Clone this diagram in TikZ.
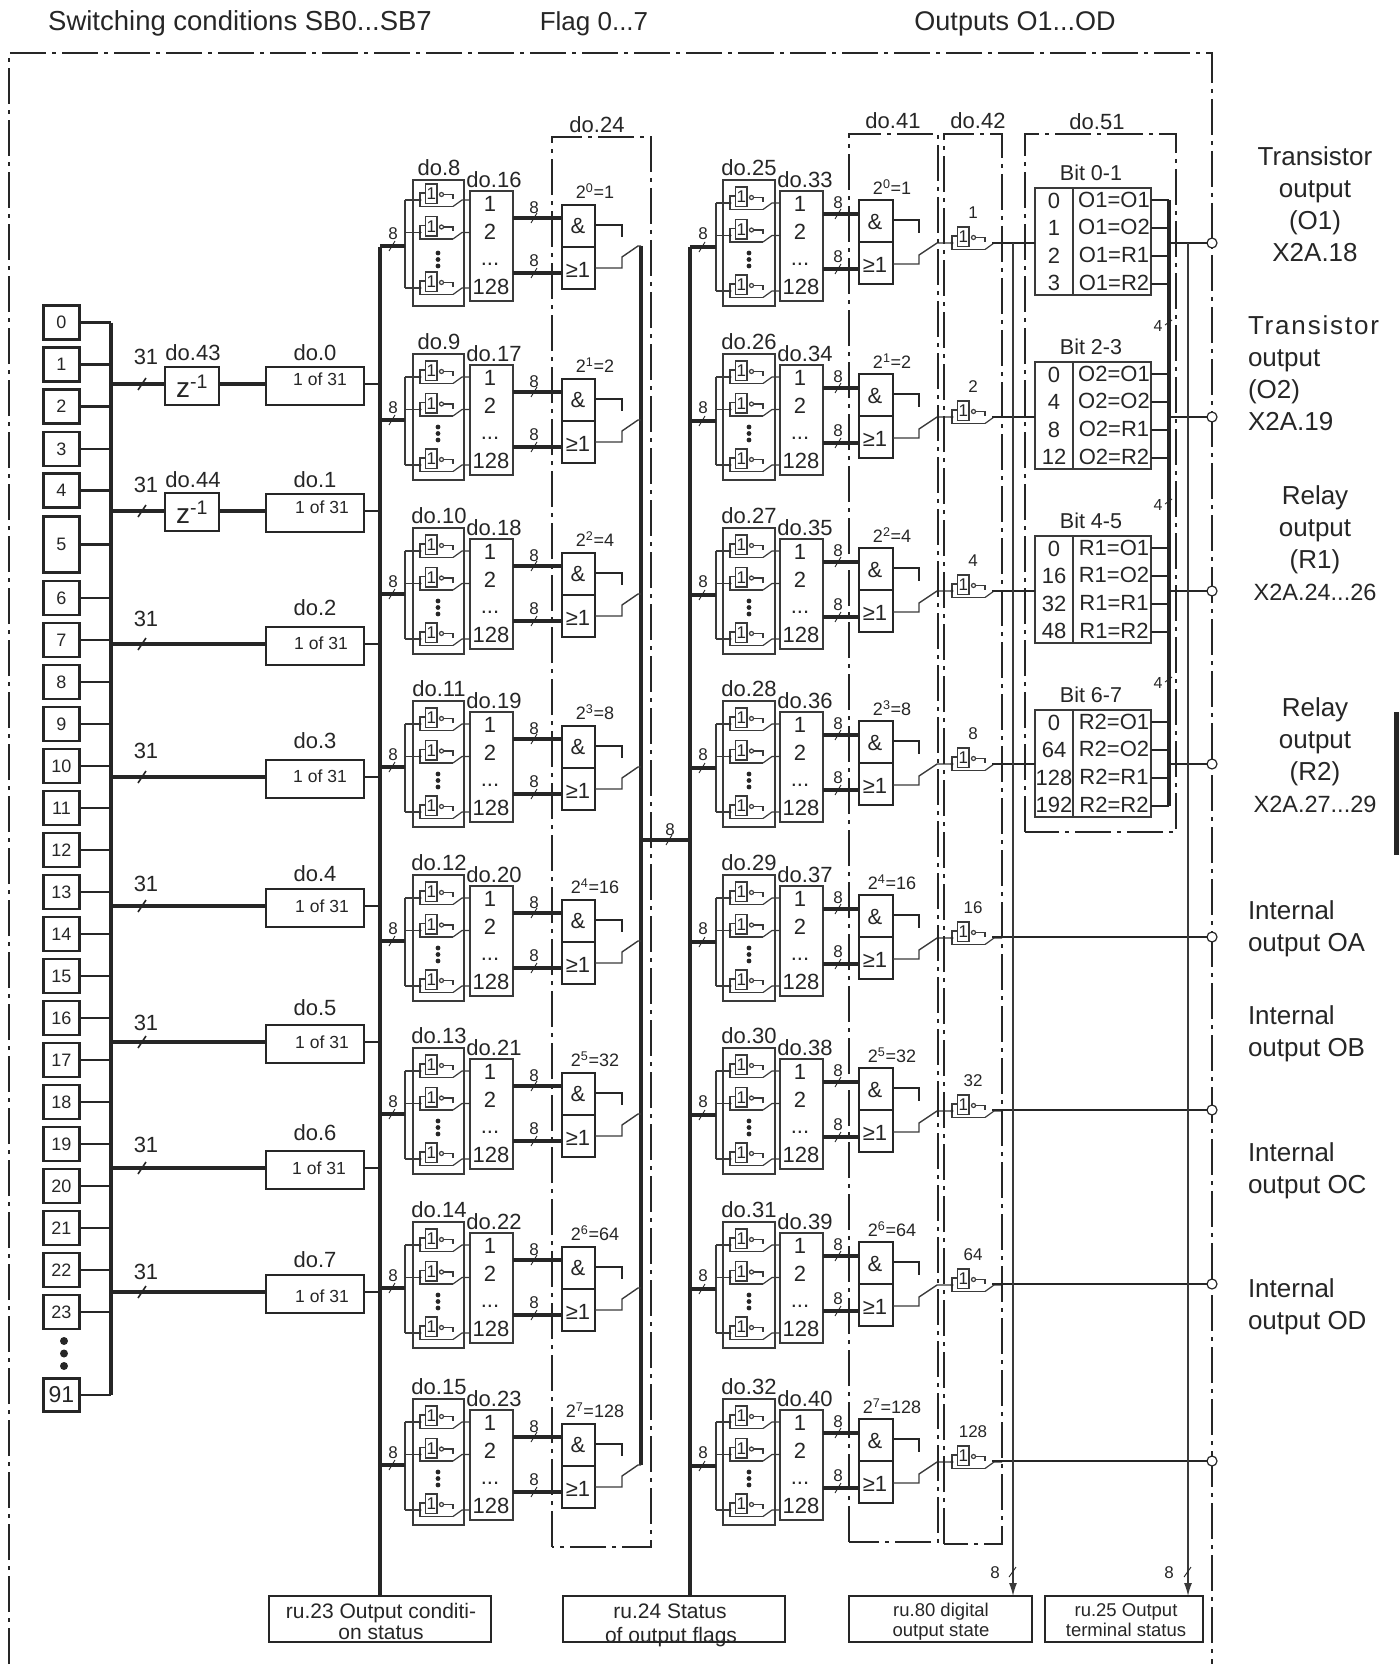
\documentclass[tikz,border=0pt]{standalone}
\usepackage{fontspec}
\setmainfont{Liberation Sans}
\usetikzlibrary{arrows.meta,calc}
\definecolor{ink}{HTML}{262626}
\definecolor{thin}{HTML}{3A3A3A}
\newcommand{\fsz}[1]{\fontsize{#1}{#1}\selectfont}
\tikzset{
  x=1pt,y=-1pt,
  every node/.style={inner sep=0pt,outer sep=0pt,text=ink},
  txt/.style={font=\fsz{#1},text height={#1*0.72},text depth=0pt},
  box/.style={draw=thin,line width=1.3,anchor=north west,minimum width=#1},
  hbox/.style={minimum height=#1},
  heavy/.style={draw=ink,line width=3.4},
  medium/.style={draw=ink,line width=2.6},
  fine/.style={draw=thin,line width=1.2},
  bus/.style={draw=ink,line width=4.4},
  frameline/.style={draw=ink,line width=1.2,dash pattern=on 36pt off 6pt on 4pt off 6pt},
  inbox/.style={draw=ink,line width=2.2,minimum width=36,font=\fsz{18}},
  selbox/.style={draw=ink,line width=2.2,anchor=north west,minimum width=98,minimum height=38},
  btbox/.style={draw=ink,line width=1.5,anchor=north west},
  zbox/.style={draw=ink,fill=white,line width=2.2,anchor=north west,minimum width=54,minimum height=38,font=\fsz{28}},
  gatepic/.pic={
    \node[draw=thin,line width=1.2,anchor=north west,minimum width=11.5,minimum height=19.5,font=\fsz{17}] (-one) at (5.5,-16) {1};
    \draw[fine] (0,0) -- (0,-7) -- (5.5,-7);
    \draw[fine] (0,0) -- (0,6.5) -- (33,6.5);
    \draw[fine] (23.5,-5.5) -- (33,-5.5) -- (33,-1);
    \draw[fine] (33,6.5) -- (42,0) -- (50,0);
    \draw[fine,fill=white] (21.5,-5.5) circle (2);
    \fill[ink] (0,0) circle (1.6);
    \coordinate (-in) at (0,0);
    \coordinate (-out) at (50,0);
  },
  bigtick/.pic={\draw[ink,line width=1.6] (-4,6) -- (4,-6);},
  smalltick/.pic={\draw[ink,line width=0.9] (-3,5) -- (3,-5);},
  dots/.pic={\fill[ink] (0,0) circle (2.4) (0,6.5) circle (2.4) (0,13) circle (2.4);},
}
\begin{document}
\begin{tikzpicture}
\useasboundingbox (0,0) rectangle (1399,1669);
% headline
\node[txt=27.5] (hA) at (240,21) {Switching conditions SB0...SB7};
\node[txt=26] (hB) at (594,21) {Flag 0...7};
\node[txt=27] (hC) at (1015,21) {Outputs O1...OD};
\draw[frameline] (9,1664) -- (9,53) -- (1212,53) -- (1212,1664);
\fill[ink] (1394,712) rectangle (1399,855);
% bus anchors
\coordinate (inbus) at (111,0);
\coordinate (mainbus) at (380,0);
\coordinate (flagbus) at (641,0);
\coordinate (rightbus) at (690,0);
\coordinate (bitbus) at (1169,0);
\coordinate (tapA) at (1013,0);
\coordinate (tapB) at (1188,0);
\coordinate (circ) at (1212,0);
% inputs
\foreach \t/\c in {0/322.5,1/364.5,2/406.5,3/449,4/490.5,6/598,7/640,8/682,9/724,10/766,11/808,12/850,13/892,14/934,15/976,16/1018,17/1060,18/1102,19/1144,20/1186,21/1228,22/1270,23/1312}{
  \node[inbox,minimum height=34] (in\t) at (61.5,\c) {\t};
  \draw[medium] (in\t.east) -- (inbus |- in\t.east);
}
\node[inbox,minimum height=56] (in5) at (61.5,544.5) {5};
\draw[heavy] (in5.east) -- (inbus |- in5.east);
\node[inbox,minimum height=33,font=\fsz{23}] (in91) at (61.5,1395) {91};
\draw[medium] (in91.east) -- (inbus |- in91.east);
\fill[ink] (64,1341) circle (4) (64,1353.5) circle (4) (64,1366) circle (4);
\draw[draw=ink,line width=3.4] (inbus |- in0.east) -- (inbus |- in91.east);
% selectors
\foreach \k/\s/\ly/\ty/\tx/\ny in {0/384/353/379/320/357,1/511/480/507/322/485,2/644/608/643/321/619,3/777/741/776/320/751,4/906/874/906/322/884,5/1042/1008/1042/322/1023,6/1168/1133/1168/319/1145,7/1292/1260/1296/322/1272}{
  \coordinate (sg\k) at (200,\s);
  \node[selbox] (sel\k) at (266,\s-17) {};
  \node[txt=22] (sl\k) at (315,\ly) {do.\k};
  \node[txt=17.5] (st\k) at (\tx,\ty) {1 of 31};
  \node[txt=22] (nn\k) at (146,\ny) {31};
  \draw[heavy] (sel\k.west |- sg\k) -- (inbus |- sg\k);
  \draw[medium] (sel\k.east |- sg\k) -- (mainbus |- sg\k);
  \pic at (142,\s) {bigtick};
}
\node[zbox] (zA) at (165,367) {z\textsuperscript{-1}};
\node[zbox] (zB) at (165,493) {z\textsuperscript{-1}};
\node[txt=22] (zlA) at (193,353) {do.43};
\node[txt=22] (zlB) at (193,480) {do.44};
% main buses
\coordinate (busbot) at (0,1596);
\draw[bus] (380,247) -- (mainbus |- busbot);
\draw[bus] (690,247) -- (rightbus |- busbot);
\draw[bus] (641,246) -- (641,1465);
\coordinate (midL) at (641,840);
\coordinate (midR) at (690,840);
\draw[bus] (midL) -- (midR);
\pic at (669,840) {smalltick};
\node[txt=17] (mid8) at (670,829) {8};
% the eight rows
\foreach \r/\o/\pw/\pv in {1/0/0/1,2/174/1/2,3/348/2/4,4/521/3/8,5/695/4/16,6/868/5/32,7/1042/6/64,8/1219/7/128}{
  \pgfmathtruncatemacro\da{\r+7}
  \pgfmathtruncatemacro\db{\r+15}
  \pgfmathtruncatemacro\dc{\r+24}
  \pgfmathtruncatemacro\dd{\r+32}
  \pgfmathsetmacro\gy{\o+ifthenelse(\r==1,-3,0)}
  % left column
  \node[box=51,hbox=126] (gbL\r) at (413,\o+180) {};
  \node[box=43,hbox=110] (nbL\r) at (470,\o+191) {};
  \node[txt=22] (gtL\r) at (439,\o+168) {do.\da};
  \node[txt=22] (ntL\r) at (494,\o+180) {do.\db};
  \pic (gLa\r) at (420,\gy+203) {gatepic};
  \pic (gLb\r) at (420,\gy+235.5) {gatepic};
  \pic (gLc\r) at (420,\gy+291) {gatepic};
  \pic at (438,\o+253) {dots};
  \coordinate (brL\r) at (405,\o+246);
  \draw[fine] (405,\gy+203) -- (gLa\r-in);
  \draw[fine] (405,\gy+235.5) -- (gLb\r-in);
  \draw[fine] (405,\gy+291) -- (gLc\r-in);
  \draw[fine] (405,\gy+203) -- (405,\gy+291);
  \draw[bus] (mainbus |- brL\r) -- (brL\r);
  \pic at (392,\o+246) {smalltick};
  \node[txt=17] (e1L\r) at (393,\o+233) {8};
  \node[txt=22] (m1L\r) at (490,\o+204) {1};
  \node[txt=22] (m2L\r) at (490,\o+232) {2};
  \node[txt=22] (m3L\r) at (490,\o+258) {...};
  \node[txt=22] (m4L\r) at (491,\o+287) {128};
  \node[btbox,line width=1.3,minimum width=33,minimum height=42] (andL\r) at (562,\o+205) {};
  \node[btbox,line width=1.3,minimum width=33,minimum height=42] (orL\r) at (562,\o+247) {};
  \node[txt=22] (atL\r) at (578,\o+226) {\&};
  \node[txt=22] (otL\r) at (578,\o+270) {≥1};
  \node[txt=18] (pL\r) at (595,\o+192) {2\textsuperscript{\pw}=\pv};
  \coordinate (aL\r) at (513,\o+218);
  \coordinate (bL\r) at (513,\o+273);
  \draw[bus] (aL\r) -- (andL\r.west |- aL\r);
  \draw[bus] (bL\r) -- (orL\r.west |- bL\r);
  \pic at (534,\o+218) {smalltick};
  \pic at (534,\o+273) {smalltick};
  \node[txt=17] (e2L\r) at (534,\o+207) {8};
  \node[txt=17] (e3L\r) at (534,\o+260.5) {8};
  \coordinate (sL\r) at (622,\o+225);
  \draw[medium] (andL\r.east |- sL\r) -- (sL\r) -- (622,\o+237);
  \coordinate (uL\r) at (622,\o+268);
  \draw[fine,line width=1.4] (orL\r.east |- uL\r) -- (uL\r) -- (622,\o+257) -- (638,\o+246) -- (flagbus |- 0,\o+246);
  % right column
  \node[box=52,hbox=126] (gbR\r) at (723,\o+180) {};
  \node[box=43,hbox=110] (nbR\r) at (780,\o+191) {};
  \node[txt=22] (gtR\r) at (749,\o+168) {do.\dc};
  \node[txt=22] (ntR\r) at (805,\o+180) {do.\dd};
  \pic (gRa\r) at (730,\o+203) {gatepic};
  \pic (gRb\r) at (730,\o+235.5) {gatepic};
  \pic (gRc\r) at (730,\o+291) {gatepic};
  \pic at (749,\o+253) {dots};
  \coordinate (brR\r) at (716,\o+247);
  \draw[fine] (716,\o+203) -- (gRa\r-in);
  \draw[fine] (716,\o+235.5) -- (gRb\r-in);
  \draw[fine] (716,\o+291) -- (gRc\r-in);
  \draw[fine] (716,\o+203) -- (716,\o+291);
  \draw[bus] (rightbus |- brR\r) -- (brR\r);
  \pic at (702,\o+247) {smalltick};
  \node[txt=17] (e1R\r) at (703,\o+233) {8};
  \node[txt=22] (m1R\r) at (800,\o+204) {1};
  \node[txt=22] (m2R\r) at (800,\o+232) {2};
  \node[txt=22] (m3R\r) at (800,\o+258) {...};
  \node[txt=22] (m4R\r) at (801,\o+287) {128};
  \node[btbox,line width=1.3,minimum width=34,minimum height=42] (andR\r) at (859,\o+200) {};
  \node[btbox,line width=1.3,minimum width=34,minimum height=42] (orR\r) at (859,\o+242) {};
  \node[txt=22] (atR\r) at (875,\o+222) {\&};
  \node[txt=22] (otR\r) at (875,\o+265) {≥1};
  \node[txt=18] (pR\r) at (892,\o+188) {2\textsuperscript{\pw}=\pv};
  \coordinate (aR\r) at (823,\o+214);
  \coordinate (bR\r) at (823,\o+269);
  \draw[bus] (aR\r) -- (andR\r.west |- aR\r);
  \draw[bus] (bR\r) -- (orR\r.west |- bR\r);
  \pic at (838,\o+214) {smalltick};
  \pic at (838,\o+269) {smalltick};
  \node[txt=17] (e2R\r) at (838,\o+202) {8};
  \node[txt=17] (e3R\r) at (838,\o+256) {8};
  \coordinate (sR\r) at (919,\o+220);
  \draw[medium] (andR\r.east |- sR\r) -- (sR\r) -- (919,\o+233);
  % do.42 gate
  \pic (gO\r) at (952,\o+243) {gatepic};
  \coordinate (uR\r) at (919,\o+264);
  \draw[fine,line width=1.4] (orR\r.east |- uR\r) -- (uR\r) -- (919,\o+255) -- (937,\o+243) -- (gO\r-in);
  \node[txt=17] (oL\r) at (973,\o+212) {\pv};
}
% do.24 / do.41 / do.42 / do.51 boxes
\draw[frameline] (552,1547) -- (552,137) -- (651,137) -- (651,1547) -- cycle;
\draw[frameline] (849,1542) -- (849,134) -- (938,134) -- (938,1542) -- cycle;
\draw[frameline] (944,1544) -- (944,134) -- (1002,134) -- (1002,1544) -- cycle;
\draw[frameline] (1025,832) -- (1025,134) -- (1176,134) -- (1176,832) -- cycle;
\node[txt=22] (t24) at (597,125) {do.24};
\node[txt=22] (t41) at (893,121) {do.41};
\node[txt=22] (t42) at (978,121) {do.42};
\node[txt=22] (t51) at (1097,122) {do.51};
% Bit tables
\foreach \i/\top/\sig/\hd/\hn/\a/\b/\c/\d/\u/\va/\vb/\vc/\vd in {1/188/243/Bit 0-1/O1/0/1/2/3/O1/O1/O2/R1/R2, 2/362/417/Bit 2-3/O2/0/4/8/12/O2/O1/O2/R1/R2, 3/536/591/Bit 4-5/R1/0/16/32/48/R1/O1/O2/R1/R2, 4/710/764/Bit 6-7/R2/0/64/128/192/R2/O1/O2/R1/R2}{
  \node[box=116,hbox=107] (bit\i) at (1035,\top) {};
  \coordinate (sep\i) at (1073,\top);
  \draw[fine] (sep\i) -- (1073,\top+107);
  \node[txt=21.5] (bh\i) at (1091,\top-15) {\hd};
  \node[txt=22] (ba\i) at (1054,\top+13) {\a};
  \node[txt=22] (bb\i) at (1054,\top+40) {\b};
  \node[txt=22] (bc\i) at (1054,\top+68) {\c};
  \node[txt=22] (bd\i) at (1054,\top+95) {\d};
  \node[txt=22] (be\i) at (1114,\top+12) {\u=\va};
  \node[txt=22] (bf\i) at (1114,\top+39) {\u=\vb};
  \node[txt=22] (bg\i) at (1114,\top+67) {\u=\vc};
  \node[txt=22] (bk\i) at (1114,\top+95) {\u=\vd};
  \coordinate (ra\i) at (1151,\top+12);
  \coordinate (rb\i) at (1151,\top+40);
  \coordinate (rc\i) at (1151,\top+68);
  \coordinate (rd\i) at (1151,\top+96);
  \foreach \p in {a,b,c,d}{\draw[medium] (r\p\i) -- (bitbus |- r\p\i);}
  \coordinate (so\i) at (992,\sig);
  \draw[medium] (so\i) -- (bit\i.west |- so\i);
  \draw[medium] (bitbus |- so\i) -- (circ |- so\i);
  \node[draw=ink,fill=white,line width=1.2,circle,minimum size=10] (oc\i) at (circ |- so\i) {};
}
\draw[draw=ink,line width=3.2] (bitbus |- ra1) -- (bitbus |- rd4);
\foreach \i/\n in {1/326,2/505,3/683}{
  \node[txt=16] (four\i) at (1158,\n) {4};
  \draw[ink,line width=0.9] (1165,\n-1) -- (1172,\n-6);
}
% lower outputs
\foreach \i/\sig in {5/937,6/1110,7/1284,8/1461}{
  \coordinate (so\i) at (992,\sig);
  \draw[medium] (so\i) -- (circ |- so\i);
  \node[draw=ink,fill=white,line width=1.2,circle,minimum size=10] (oc\i) at (circ |- so\i) {};
}
% status boxes
\node[btbox,minimum width=222,minimum height=46] (ruA) at (269,1596) {};
\node[btbox,minimum width=222,minimum height=46] (ruB) at (563,1596) {};
\node[btbox,minimum width=183,minimum height=46] (ruC) at (849,1596) {};
\node[btbox,minimum width=158,minimum height=46] (ruD) at (1045,1596) {};
\node[txt=21] (ra) at (381,1611) {ru.23 Output conditi-};
\node[txt=21] (rb) at (381,1632) {on status};
\node[txt=21] (rc) at (670,1611) {ru.24 Status};
\node[txt=21] (rd) at (671,1635) {of output flags};
\node[txt=18.5] (re) at (941,1610) {ru.80 digital};
\node[txt=18.5] (rf) at (941,1630) {output state};
\node[txt=18.5] (rg) at (1126,1610) {ru.25 Output};
\node[txt=18.5] (rh) at (1126,1630) {terminal status};
\draw[fine,line width=1.4,-{Latex[length=13pt,width=8pt]}] (tapA |- so1) -- (tapA |- ruC.north);
\draw[fine,line width=1.4,-{Latex[length=13pt,width=8pt]}] (tapB |- so1) -- (tapB |- ruD.north);
\draw[ink,line width=0.9] (1009,1577) -- (1016,1567);
\draw[ink,line width=0.9] (1184,1577) -- (1191,1567);
\node[txt=17] (ea) at (995,1572) {8};
\node[txt=17] (eb) at (1169,1572) {8};
% right-hand labels
\node[txt=26] (x1) at (1315,156) {Transistor};
\node[txt=26] (x2) at (1315,188) {output};
\node[txt=26] (x3) at (1315,220) {(O1)};
\node[txt=26] (x4) at (1315,252) {X2A.18};
\node[txt=26,anchor=west] (y1) at (1248,325) {\addfontfeature{LetterSpace=7}Transistor};
\node[txt=26,anchor=west] (y2) at (1248,357) {output};
\node[txt=26,anchor=west] (y3) at (1248,389) {(O2)};
\node[txt=26,anchor=west] (y4) at (1248,421) {X2A.19};
\node[txt=26] (z1) at (1315,495) {Relay};
\node[txt=26] (z2) at (1315,527) {output};
\node[txt=26] (z3) at (1315,559) {(R1)};
\node[txt=23.5] (z4) at (1315,592) {X2A.24...26};
\node[txt=26] (w1) at (1315,707) {Relay};
\node[txt=26] (w2) at (1315,739) {output};
\node[txt=26] (w3) at (1315,771) {(R2)};
\node[txt=23.5] (w4) at (1315,804) {X2A.27...29};
\node[txt=26,anchor=west] (v1) at (1248,910) {Internal};
\node[txt=26,anchor=west] (v2) at (1248,942) {output OA};
\node[txt=26,anchor=west] (v3) at (1248,1015) {Internal};
\node[txt=26,anchor=west] (v4) at (1248,1047) {output OB};
\node[txt=26,anchor=west] (v5) at (1248,1152) {Internal};
\node[txt=26,anchor=west] (v6) at (1248,1184) {output OC};
\node[txt=26,anchor=west] (v7) at (1248,1288) {Internal};
\node[txt=26,anchor=west] (v8) at (1248,1320) {output OD};
\end{tikzpicture}
\end{document}
